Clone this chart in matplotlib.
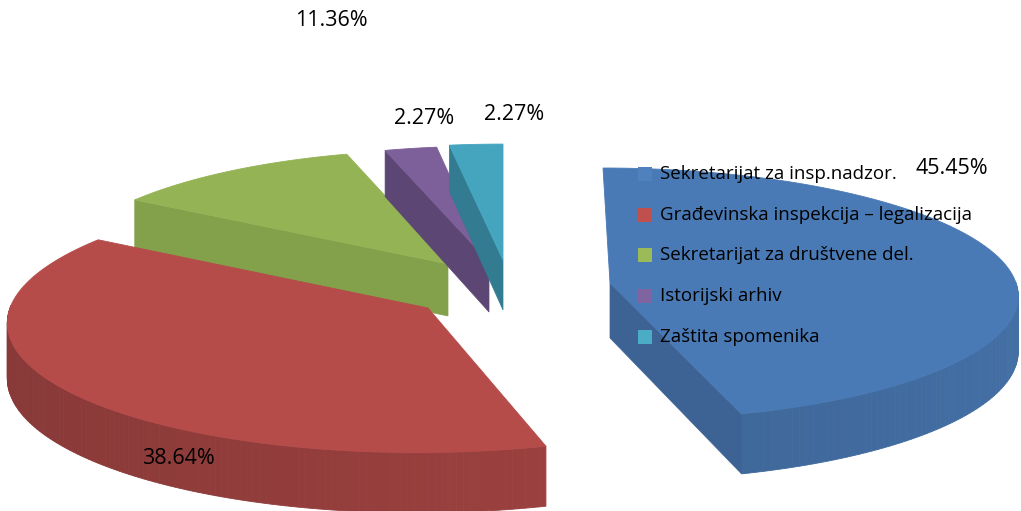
import numpy as np
import matplotlib
matplotlib.use('Agg')
import matplotlib.pyplot as plt
from matplotlib.patches import Polygon, Rectangle

categories = ['Sekretarijat za insp.nadzor.', 'Građevinska inspekcija – legalizacija',
              'Sekretarijat za društvene del.', 'Istorijski arhiv', 'Zaštita spomenika']
values = [45.45, 38.64, 11.36, 2.27, 2.27]

top_colors = ['#4a7ab5', '#b54c4a', '#94b355', '#7d5f9a', '#45a5bf']
face_colors = ['#3d6394', '#a04543', '#83a04b', '#5c4673', '#337b90']
swatch_colors = ['#4f81bd', '#c0504d', '#9bbb59', '#8064a2', '#4bacc6']

# where each exploded slice sits, in pixels
apex_x = [610, 428, 448, 489, 503]
apex_y = [283, 308, 264, 262, 260]
radius_x = [406, 418, 390, 400, 410]
radius_y = [125, 132, 124, 126, 126]
shear = [-7, 11, 0, 0, 0]
depth = [55, 55, 52, 50, 50]
# which cut edge shows its side: 1 = end edge, 0 = start edge, None = hidden
cut_face = [1, None, 0, 0, 0]
draw_order = [0, 2, 3, 4, 1]

label_x = [952, 178, 331, 424, 514]
label_y = [168, 458, 21, 118, 114]
legend_y = [174, 215, 255, 296, 337]

K = 0.087

plt.rcParams['font.family'] = ['Open Sans', 'DejaVu Sans']

fig = plt.figure(figsize=(10.21, 5.11), dpi=100)
ax = fig.add_axes([0, 0, 1, 1])
ax.set_xlim(0, 1021)
ax.set_ylim(511, 0)
ax.axis('off')


def project(i, theta):
    # theta is clockwise from 12 o'clock, on a tilted disc with some perspective
    u = np.sin(theta)
    v = np.cos(theta)
    s = 1 / (1 + K * v)
    x = apex_x[i] + radius_x[i] * u * s + shear[i] * v
    y = apex_y[i] - radius_y[i] * v * s
    return x, y, s


def shade(color, f):
    rgb = np.array(matplotlib.colors.to_rgb(color))
    return tuple(rgb * f)


edges = np.concatenate([[0], np.cumsum(values) / np.sum(values) * 2 * np.pi])

for i in draw_order:
    t0, t1 = edges[i], edges[i + 1]
    thetas = np.linspace(t0, t1, 160)
    xs, ys, ss = project(i, thetas)

    # outer rim, only the part turned towards the viewer
    for j in range(len(thetas) - 1):
        if np.cos(thetas[j]) > 0.02:
            continue
        quad = [(xs[j], ys[j]), (xs[j + 1], ys[j + 1]),
                (xs[j + 1], ys[j + 1] + depth[i] * ss[j + 1]),
                (xs[j], ys[j] + depth[i] * ss[j])]
        f = 0.83 + 0.08 * np.sin(thetas[j])
        c = shade(top_colors[i], f)
        ax.add_patch(Polygon(quad, closed=True, fc=c, ec=c, lw=0.6))

    # cut side
    if cut_face[i] is not None:
        t = t1 if cut_face[i] == 1 else t0
        ex, ey, es = project(i, t)
        quad = [(apex_x[i], apex_y[i]), (ex, ey), (ex, ey + depth[i] * es),
                (apex_x[i], apex_y[i] + depth[i])]
        ax.add_patch(Polygon(quad, closed=True, fc=face_colors[i], ec=face_colors[i], lw=0.5))

    # top surface
    pts = [(apex_x[i], apex_y[i])] + list(zip(xs, ys))
    ax.add_patch(Polygon(pts, closed=True, fc=top_colors[i], ec=top_colors[i], lw=0.6))

for i, v in enumerate(values):
    ax.text(label_x[i], label_y[i], f'{v:.2f}%', fontsize=15.5, color='black',
            ha='center', va='center')

for name, col, y in zip(categories, swatch_colors, legend_y):
    ax.add_patch(Rectangle((638, y - 7), 14, 14, fc=col, ec='none'))
    ax.text(660, y, name, fontsize=13.5, color='black', ha='left', va='center')

fig.savefig('out.png', dpi=100)
